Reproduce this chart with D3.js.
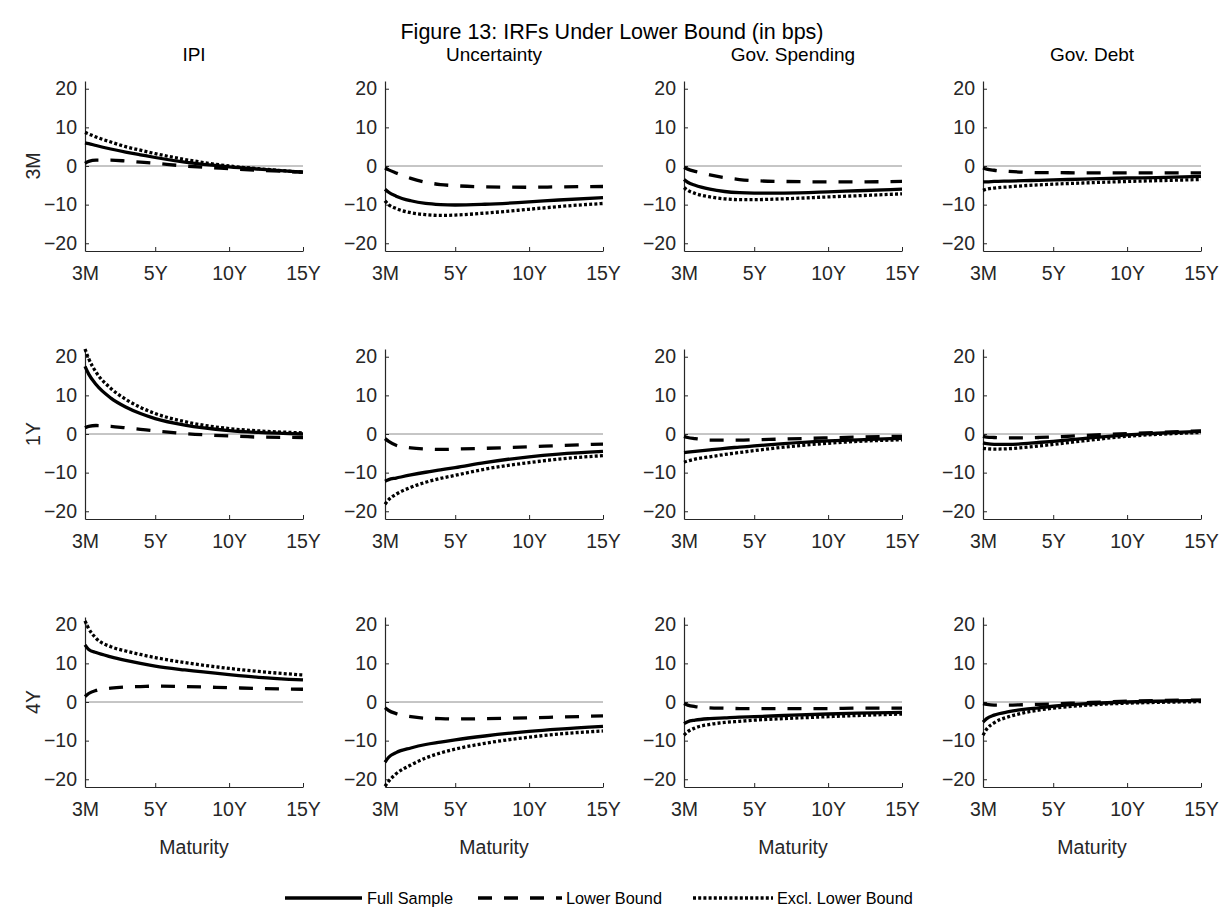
<!DOCTYPE html>
<html>
<head>
<meta charset="utf-8">
<script src="https://cdn.jsdelivr.net/npm/d3@7"></script>
<style>
  html, body { margin: 0; padding: 0; background: #fff; }
  svg { display: block; font-family: "Liberation Sans", Arial, Helvetica, sans-serif; }
</style>
</head>
<body>
<svg id="chart" width="1223" height="913"></svg>
<script>
// Maturities in years (3M = 0.25)
const maturities = [0.25, 0.5, 1, 2, 3, 4, 5, 7, 10, 12, 15];
const xTickValues = [0.25, 5, 10, 15];
const xTickLabels = ["3M", "5Y", "10Y", "15Y"];
const yTickValues = [-20, -10, 0, 10, 20];

const shocks = ["IPI", "Uncertainty", "Gov. Spending", "Gov. Debt"];
const horizons = ["3M", "1Y", "4Y"];
const seriesNames = ["Full Sample", "Lower Bound", "Excl. Lower Bound"];

// Impulse responses (bps), horizon 3M
const h3m_ipi_full  = [6.0, 5.8, 5.3, 4.4, 3.6, 2.9, 2.2, 1.0, -0.2, -0.8, -1.6];
const h3m_ipi_lb    = [0.7, 1.2, 1.5, 1.5, 1.3, 1.0, 0.7, 0.0, -0.7, -1.1, -1.6];
const h3m_ipi_excl  = [8.7, 8.3, 7.5, 6.2, 5.0, 4.1, 3.2, 1.7, 0.0, -0.7, -1.6];
const h3m_unc_full  = [-6.0, -6.8, -7.8, -9.0, -9.7, -10.0, -10.1, -9.9, -9.3, -8.8, -8.2];
const h3m_unc_lb    = [-0.5, -1.0, -1.8, -3.2, -4.2, -4.8, -5.1, -5.4, -5.5, -5.4, -5.3];
const h3m_unc_excl  = [-9.0, -10.0, -11.0, -12.1, -12.6, -12.8, -12.7, -12.2, -11.2, -10.5, -9.7];
const h3m_spd_full  = [-3.5, -4.2, -5.0, -6.0, -6.6, -6.9, -7.0, -7.0, -6.7, -6.4, -6.0];
const h3m_spd_lb    = [-0.4, -0.8, -1.4, -2.3, -3.0, -3.5, -3.8, -4.0, -4.1, -4.1, -4.0];
const h3m_spd_excl  = [-5.6, -6.3, -7.1, -8.0, -8.5, -8.7, -8.7, -8.5, -8.0, -7.7, -7.2];
const h3m_dbt_full  = [-4.1, -4.1, -4.0, -3.9, -3.8, -3.7, -3.6, -3.4, -3.1, -3.0, -2.7];
const h3m_dbt_lb    = [-0.5, -0.8, -1.1, -1.4, -1.6, -1.7, -1.7, -1.8, -1.8, -1.8, -1.8];
const h3m_dbt_excl  = [-6.3, -6.0, -5.7, -5.4, -5.1, -4.9, -4.7, -4.4, -4.0, -3.8, -3.5];

// Horizon 1Y
const h1y_ipi_full  = [17.5, 15.5, 12.8, 9.3, 7.0, 5.3, 4.0, 2.3, 0.9, 0.4, 0.0];
const h1y_ipi_lb    = [1.6, 2.0, 2.2, 2.0, 1.6, 1.2, 0.8, 0.1, -0.5, -0.8, -0.9];
const h1y_ipi_excl  = [22.0, 19.5, 16.0, 11.8, 9.0, 6.9, 5.3, 3.2, 1.4, 0.8, 0.3];
const h1y_unc_full  = [-12.2, -11.8, -11.4, -10.6, -9.9, -9.3, -8.7, -7.4, -5.9, -5.2, -4.5];
const h1y_unc_lb    = [-1.2, -1.9, -2.9, -3.6, -3.9, -4.0, -3.9, -3.7, -3.3, -3.0, -2.6];
const h1y_unc_excl  = [-18.2, -17.0, -15.6, -13.8, -12.5, -11.5, -10.7, -9.1, -7.4, -6.5, -5.6];
const h1y_spd_full  = [-4.8, -4.7, -4.5, -4.1, -3.7, -3.4, -3.1, -2.5, -1.8, -1.5, -1.1];
const h1y_spd_lb    = [-0.6, -0.9, -1.2, -1.6, -1.6, -1.6, -1.5, -1.3, -1.0, -0.8, -0.6];
const h1y_spd_excl  = [-7.3, -7.0, -6.5, -5.9, -5.3, -4.8, -4.3, -3.4, -2.4, -1.9, -1.5];
const h1y_dbt_full  = [-2.3, -2.5, -2.7, -2.7, -2.5, -2.2, -1.9, -1.2, -0.2, 0.2, 0.7];
const h1y_dbt_lb    = [-0.6, -0.8, -0.9, -1.0, -1.0, -0.9, -0.8, -0.4, 0.1, 0.4, 0.8];
const h1y_dbt_excl  = [-3.7, -3.8, -3.9, -3.8, -3.5, -3.1, -2.7, -1.8, -0.6, -0.1, 0.4];

// Horizon 4Y
const h4y_ipi_full  = [14.8, 13.6, 12.8, 11.7, 10.8, 10.0, 9.3, 8.3, 7.1, 6.4, 5.7];
const h4y_ipi_lb    = [1.4, 2.2, 3.0, 3.6, 3.9, 4.0, 4.1, 4.0, 3.7, 3.5, 3.3];
const h4y_ipi_excl  = [21.0, 19.0, 16.5, 14.3, 13.2, 12.3, 11.5, 10.2, 8.7, 7.9, 7.0];
const h4y_unc_full  = [-15.6, -14.3, -13.1, -11.9, -11.0, -10.4, -9.8, -8.8, -7.6, -7.0, -6.3];
const h4y_unc_lb    = [-1.5, -2.2, -3.0, -3.8, -4.2, -4.3, -4.4, -4.3, -4.1, -3.9, -3.6];
const h4y_unc_excl  = [-21.8, -20.5, -18.6, -16.3, -14.5, -13.2, -12.2, -10.7, -9.1, -8.3, -7.5];
const h4y_spd_full  = [-5.6, -5.1, -4.7, -4.3, -4.1, -3.9, -3.8, -3.5, -3.1, -2.9, -2.7];
const h4y_spd_lb    = [-0.4, -0.8, -1.2, -1.5, -1.6, -1.7, -1.7, -1.7, -1.7, -1.6, -1.6];
const h4y_spd_excl  = [-8.6, -7.7, -6.7, -5.8, -5.3, -5.0, -4.7, -4.3, -3.8, -3.5, -3.1];
const h4y_dbt_full  = [-5.2, -4.3, -3.4, -2.5, -1.9, -1.5, -1.1, -0.5, 0.0, 0.2, 0.4];
const h4y_dbt_lb    = [-0.4, -0.6, -0.8, -0.8, -0.7, -0.6, -0.5, -0.2, 0.2, 0.4, 0.5];
const h4y_dbt_excl  = [-8.6, -7.0, -5.4, -3.8, -2.8, -2.1, -1.6, -0.9, -0.3, -0.1, 0.1];

// Grid of panels: rows = horizons, columns = shocks, each with [full, lb, excl]
const panels = [
  [[h3m_ipi_full, h3m_ipi_lb, h3m_ipi_excl], [h3m_unc_full, h3m_unc_lb, h3m_unc_excl],
   [h3m_spd_full, h3m_spd_lb, h3m_spd_excl], [h3m_dbt_full, h3m_dbt_lb, h3m_dbt_excl]],
  [[h1y_ipi_full, h1y_ipi_lb, h1y_ipi_excl], [h1y_unc_full, h1y_unc_lb, h1y_unc_excl],
   [h1y_spd_full, h1y_spd_lb, h1y_spd_excl], [h1y_dbt_full, h1y_dbt_lb, h1y_dbt_excl]],
  [[h4y_ipi_full, h4y_ipi_lb, h4y_ipi_excl], [h4y_unc_full, h4y_unc_lb, h4y_unc_excl],
   [h4y_spd_full, h4y_spd_lb, h4y_spd_excl], [h4y_dbt_full, h4y_dbt_lb, h4y_dbt_excl]]
];

// Layout
const colLeft = [85, 385, 684, 983];
const rowTop = [81, 349, 617];
const pw = 218, ph = 170;
const axisColor = "#262626";
const lineStyles = [
  { dash: null, width: 3.3 },
  { dash: "14 12", width: 3.3 },
  { dash: "3 2.2", width: 3.3 }
];

const svg = d3.select("#chart");

const x = d3.scaleLinear().domain([0.25, 15]).range([0, pw]);
const y = d3.scaleLinear().domain([-22, 22]).range([ph, 0]);

const line = d3.line()
  .x((d, i) => x(maturities[i]))
  .y(d => y(d))
  .curve(d3.curveMonotoneX);

const defs = svg.append("defs");
defs.append("clipPath").attr("id", "plotclip")
  .append("rect").attr("x", -2).attr("y", -2).attr("width", pw + 4).attr("height", ph + 4);

// Figure title
svg.append("text")
  .attr("x", 612).attr("y", 39)
  .attr("text-anchor", "middle")
  .attr("font-size", 21.5).attr("fill", "#000")
  .text("Figure 13: IRFs Under Lower Bound (in bps)");

panels.forEach((row, r) => {
  row.forEach((series, c) => {
    const g = svg.append("g").attr("transform", `translate(${colLeft[c]},${rowTop[r]})`);

    // zero reference line
    g.append("line")
      .attr("x1", x(0.25)).attr("x2", x(15))
      .attr("y1", y(0)).attr("y2", y(0))
      .attr("stroke", "#8c8c8c").attr("stroke-width", 1);

    // axes
    const xAxis = d3.axisBottom(x)
      .tickValues(xTickValues)
      .tickFormat((d, i) => xTickLabels[i])
      .tickSizeInner(-4).tickSizeOuter(0).tickPadding(15);
    const yAxis = d3.axisLeft(y)
      .tickValues(yTickValues)
      .tickSizeInner(-4).tickSizeOuter(0).tickPadding(8);

    const gx = g.append("g").attr("transform", `translate(0,${ph})`).call(xAxis);
    const gy = g.append("g").call(yAxis);
    [gx, gy].forEach(a => {
      a.select(".domain").attr("stroke", axisColor).attr("stroke-width", 1.2);
      a.selectAll(".tick line").attr("stroke", axisColor).attr("stroke-width", 1);
      a.selectAll(".tick text")
        .attr("fill", axisColor)
        .attr("font-size", 19.5)
        .attr("font-family", "Liberation Sans, Arial, sans-serif");
    });

    // response curves
    const lines = g.append("g").attr("clip-path", "url(#plotclip)");
    series.forEach((vals, s) => {
      lines.append("path")
        .datum(vals)
        .attr("d", line)
        .attr("fill", "none")
        .attr("stroke", "#000")
        .attr("stroke-width", lineStyles[s].width)
        .attr("stroke-dasharray", lineStyles[s].dash)
        .attr("stroke-linecap", "butt")
        .attr("stroke-linejoin", "round");
    });

    // column titles
    if (r === 0) {
      g.append("text")
        .attr("x", pw / 2).attr("y", -20)
        .attr("text-anchor", "middle")
        .attr("font-size", 19).attr("fill", "#000")
        .text(shocks[c]);
    }
    // row labels
    if (c === 0) {
      g.append("text")
        .attr("transform", `translate(-45,${y(0)}) rotate(-90)`)
        .attr("text-anchor", "middle")
        .attr("font-size", 19.5).attr("fill", axisColor)
        .text(horizons[r]);
    }
    // x axis title
    if (r === 2) {
      g.append("text")
        .attr("x", pw / 2).attr("y", ph + 67)
        .attr("text-anchor", "middle")
        .attr("font-size", 19.5).attr("fill", axisColor)
        .text("Maturity");
    }
  });
});

// Legend
const legendItems = [
  { x0: 285, x1: 362, tx: 367 },
  { x0: 478, x1: 562, tx: 566 },
  { x0: 693, x1: 773, tx: 777 }
];
const legendY = 898;
const lg = svg.append("g");
seriesNames.forEach((name, s) => {
  const it = legendItems[s];
  lg.append("line")
    .attr("x1", it.x0).attr("x2", it.x1)
    .attr("y1", legendY).attr("y2", legendY)
    .attr("stroke", "#000")
    .attr("stroke-width", lineStyles[s].width)
    .attr("stroke-dasharray", lineStyles[s].dash);
  lg.append("text")
    .attr("x", it.tx).attr("y", legendY)
    .attr("dy", "0.35em")
    .attr("font-size", 16.3).attr("fill", "#000")
    .text(name);
});
</script>
</body>
</html>
